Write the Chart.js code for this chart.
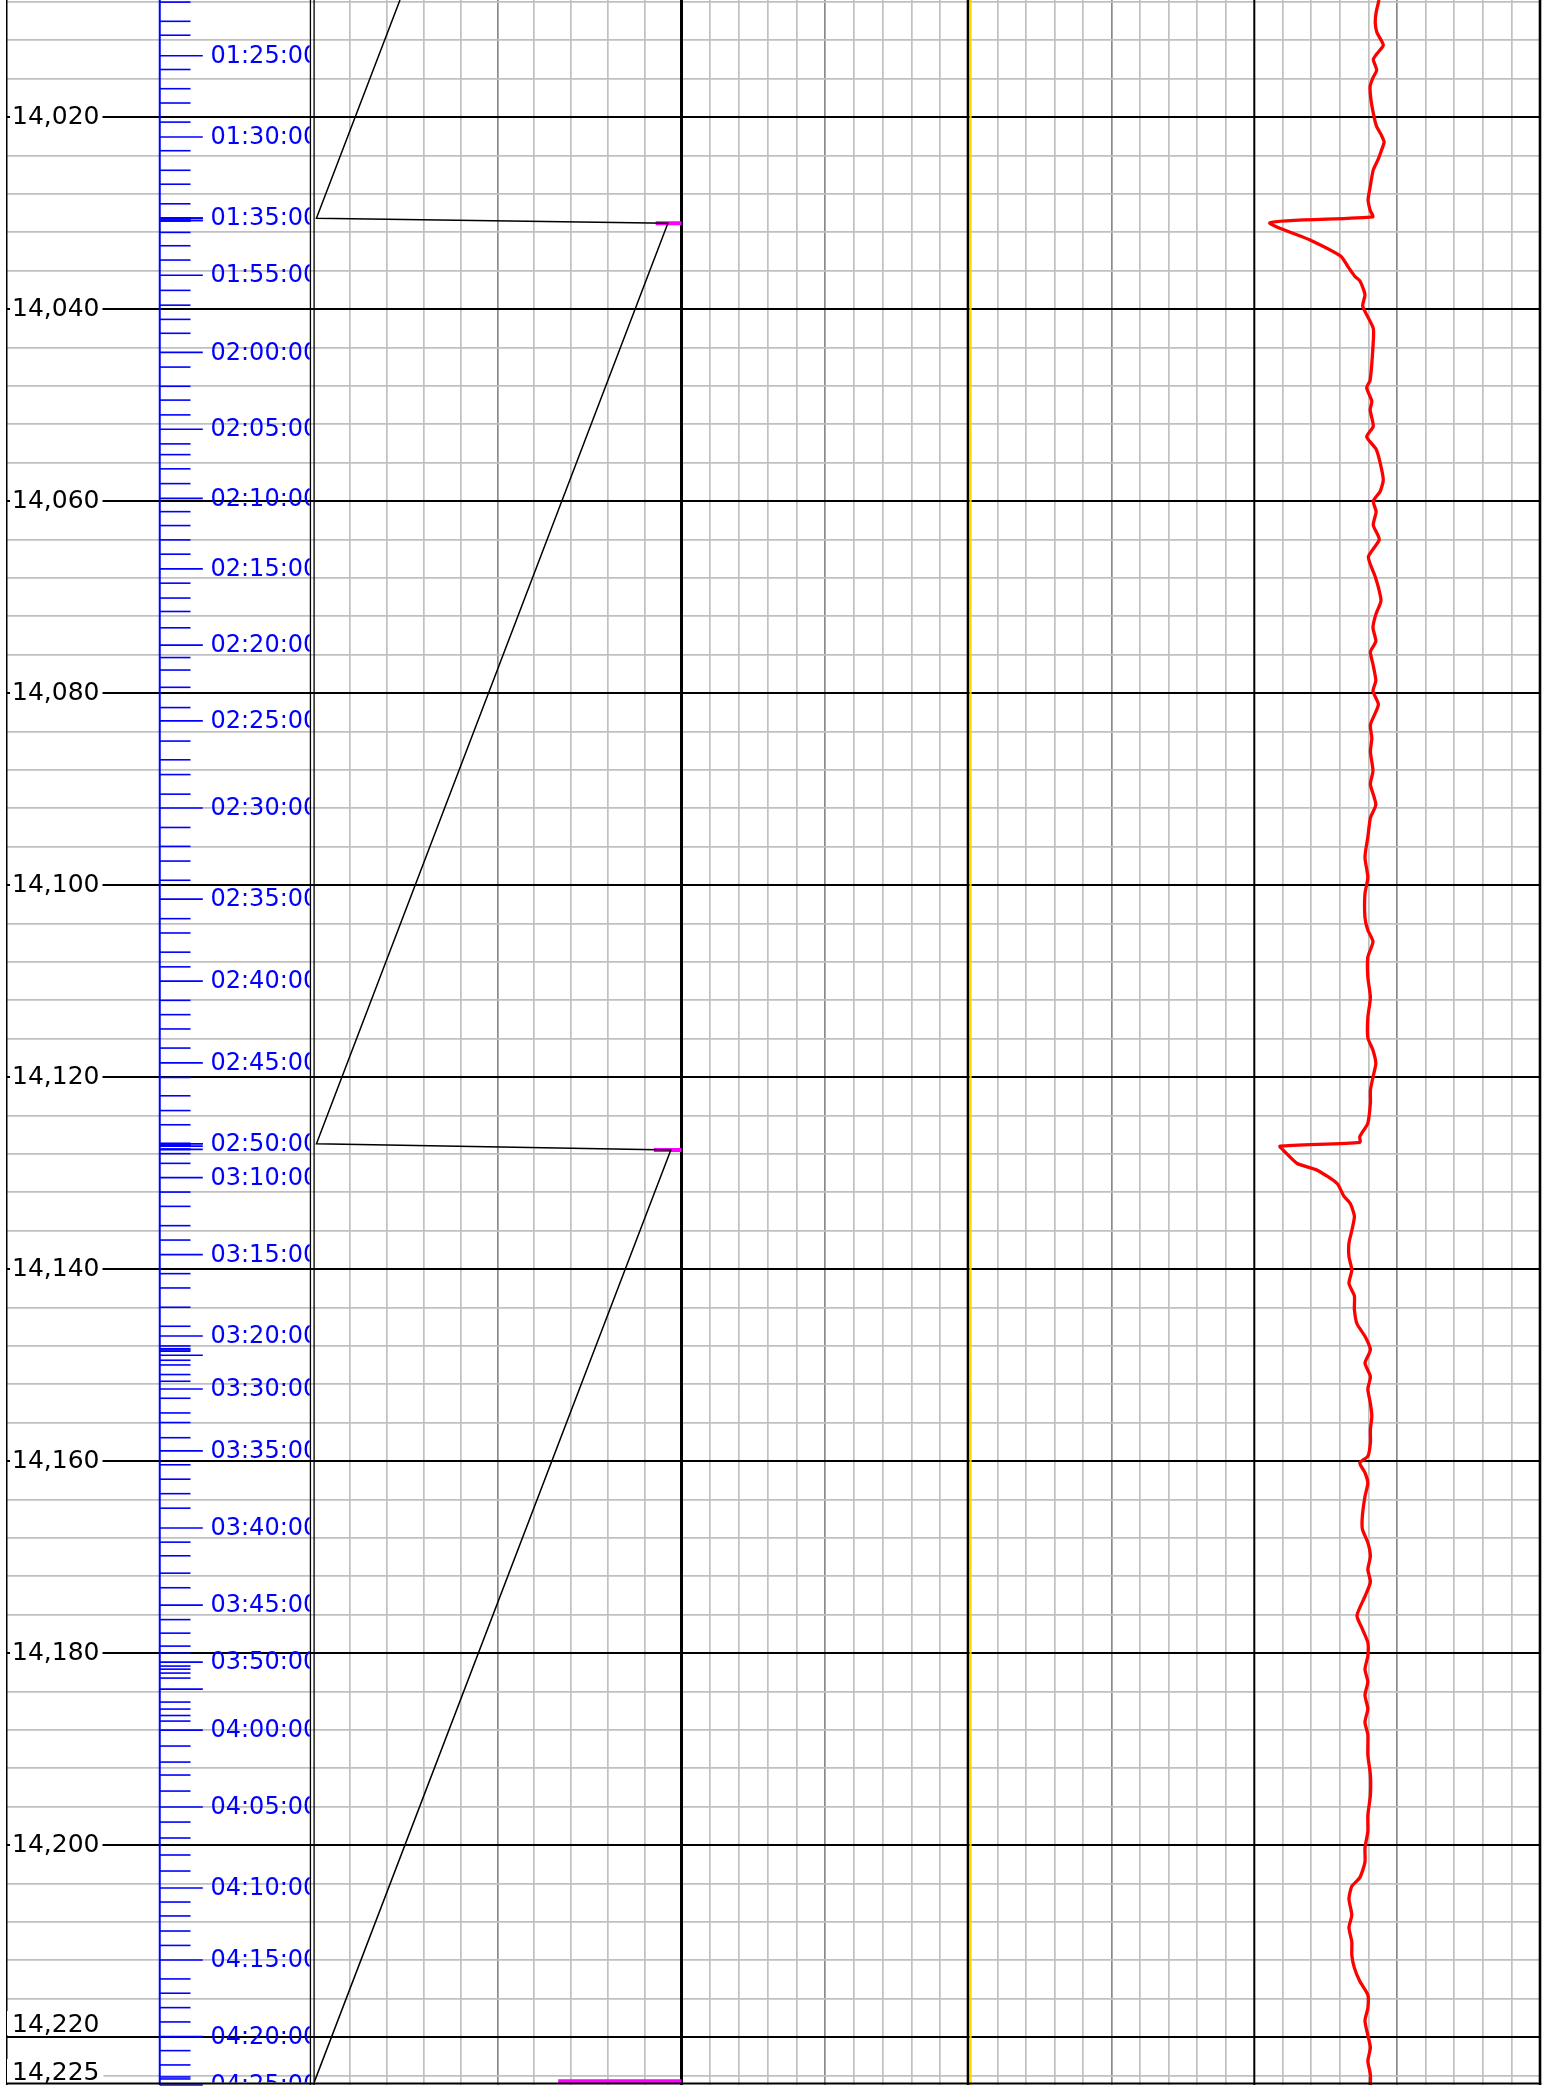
<!DOCTYPE html>
<html>
<head>
<meta charset="utf-8">
<title>Depth log 14,008 – 14,225 ft</title>
<script src="https://cdn.jsdelivr.net/npm/chart.js@4.4.1/dist/chart.umd.min.js"></script>
<style>
  html, body { margin: 0; padding: 0; background: #ffffff; }
  canvas { display: block; }
</style>
</head>
<body>
<canvas id="log" width="1554" height="2086"></canvas>
<script>
// ---- depth window (ft) ----
const DEPTH_TOP = 14007.8;
const DEPTH_BOTTOM = 14225;
const bottomDepthLabels = [14220, 14225];

// ---- block position within the stand (track 2, ft) ----
const blockDepth = [14007.8, 14030.53, 14031.05, 14126.95, 14127.6, 14224.7];
const blockPos   = [23.5,    0.8,      96.3,     0.8,      97.1,    0.2];

// ---- in-slips flag (track 2), null breaks the trace ----
const slipsDepth = [14031.05, 14031.05, null, 14127.6, 14127.6, null, 14224.6, 14224.6];
const slipsValue = [93.0,     100.5,    null, 92.5,    100.5,   null, 66.5,    100.5];

// ---- track 4 curve ----
const gasDepth = [14007.8, 14225];
const gasValue = [0.55, 0.55];

// ---- track 5 curve ----
const curveDepth = [14007.8, 14009.1, 14010.2, 14011.2, 14012.5, 14013.5, 14014.0, 14015.1, 14015.9, 14016.8,
  14018.2, 14020.0, 14021.0, 14021.8, 14022.6, 14023.6, 14024.4, 14025.5, 14027.3, 14028.6,
  14029.7, 14030.4, 14031.0, 14032.8, 14034.5, 14035.6, 14036.6, 14037.1, 14038.5, 14039.7,
  14042.0, 14043.9, 14047.4, 14048.2, 14049.6, 14050.5, 14052.2, 14053.3, 14054.6, 14056.0,
  14057.8, 14059.0, 14060.0, 14061.1, 14062.5, 14064.0, 14065.8, 14067.8, 14069.0, 14070.4,
  14071.8, 14073.2, 14074.6, 14075.7, 14077.0, 14078.7, 14079.8, 14081.2, 14083.3, 14084.7,
  14086.1, 14088.1, 14089.5, 14091.6, 14093.0, 14095.0, 14097.1, 14099.2, 14100.9, 14103.4,
  14104.7, 14105.9, 14107.5, 14109.6, 14111.7, 14113.8, 14115.9, 14117.2, 14118.6, 14120.0,
  14121.4, 14122.7, 14124.8, 14126.2, 14126.8, 14127.2, 14127.7, 14129.0, 14129.7, 14131.1,
  14132.4, 14133.2, 14134.5, 14136.0, 14137.3, 14138.7, 14140.1, 14141.5, 14142.8, 14144.2,
  14145.7, 14147.0, 14148.4, 14149.8, 14151.2, 14152.5, 14154.0, 14155.3, 14156.7, 14158.1,
  14159.5, 14160.2, 14161.2, 14162.3, 14163.7, 14165.7, 14167.1, 14168.5, 14169.9, 14171.3,
  14172.6, 14174.1, 14176.1, 14177.5, 14178.9, 14180.3, 14181.7, 14183.0, 14184.4, 14185.8,
  14187.2, 14188.5, 14190.6, 14192.7, 14194.8, 14196.9, 14198.6, 14200.3, 14201.8, 14203.4,
  14204.3, 14205.6, 14207.3, 14208.6, 14210.1, 14211.5, 14212.8, 14214.2, 14215.6, 14217.0,
  14218.3, 14219.8, 14221.1, 14222.5, 14223.9, 14225.0];
const curveValue = [43.7, 42.7, 42.4, 43.0, 45.2, 42.7, 41.7, 42.9, 41.6, 40.6,
  40.9, 42.0, 42.9, 44.4, 45.5, 44.4, 43.4, 41.7, 40.6, 39.9,
  40.6, 41.5, 5.6, 19.6, 30.4, 32.9, 35.3, 37.1, 38.8, 38.0,
  41.7, 41.6, 40.6, 39.4, 41.2, 40.6, 41.7, 39.4, 42.7, 44.1,
  45.2, 44.1, 41.7, 42.7, 41.7, 43.8, 40.0, 42.3, 43.5, 44.4,
  42.6, 41.6, 42.6, 40.7, 41.6, 42.6, 41.6, 43.5, 40.7, 41.2,
  40.7, 41.6, 40.7, 42.6, 40.7, 39.8, 38.8, 39.8, 38.8, 38.8,
  39.8, 41.6, 39.8, 39.8, 40.7, 39.8, 39.8, 41.6, 42.6, 41.6,
  40.7, 40.7, 39.8, 37.0, 37.0, 9.1, 10.5, 15.1, 22.1, 29.1,
  31.4, 33.7, 35.1, 34.2, 33.2, 33.2, 34.2, 33.2, 35.1, 35.1,
  36.0, 38.8, 40.7, 38.8, 40.7, 39.8, 40.7, 41.2, 40.7, 40.7,
  39.8, 37.0, 38.8, 39.8, 38.8, 37.9, 37.9, 39.8, 40.7, 39.8,
  40.7, 38.8, 36.0, 37.9, 39.8, 39.8, 38.8, 39.8, 38.8, 39.8,
  38.8, 39.8, 39.8, 40.7, 40.7, 39.8, 39.8, 38.8, 38.8, 37.0,
  34.2, 33.2, 34.2, 33.2, 34.2, 34.2, 35.1, 37.0, 39.8, 39.8,
  38.8, 39.8, 40.7, 39.8, 40.7, 40.7];

// ---- time/depth ticks (one per minute) ----
const timeTickTimes = [
  '01:22','01:23','01:24','01:25','01:26','01:27','01:28','01:29',
  '01:30','01:31','01:32','01:33','01:34','01:35','01:36','01:37','01:38','01:39',
  '01:40','01:41','01:42','01:43','01:44','01:45','01:46','01:47','01:48','01:49',
  '01:50','01:51','01:52','01:53','01:54','01:55','01:56','01:57','01:58','01:59',
  '02:00','02:01','02:02','02:03','02:04','02:05','02:06','02:07','02:08','02:09',
  '02:10','02:11','02:12','02:13','02:14','02:15','02:16','02:17','02:18','02:19',
  '02:20','02:21','02:22','02:23','02:24','02:25','02:26','02:27','02:28','02:29',
  '02:30','02:31','02:32','02:33','02:34','02:35','02:36','02:37','02:38','02:39',
  '02:40','02:41','02:42','02:43','02:44','02:45','02:46','02:47','02:48','02:49',
  '02:50','02:51','02:52','02:53','02:54','02:55','02:56','02:57','02:58','02:59',
  '03:00','03:01','03:02','03:03','03:04','03:05','03:06','03:07','03:08','03:09',
  '03:10','03:11','03:12','03:13','03:14','03:15','03:16','03:17','03:18','03:19',
  '03:20','03:21','03:22','03:23','03:24','03:25','03:26','03:27','03:28','03:29',
  '03:30','03:31','03:32','03:33','03:34','03:35','03:36','03:37','03:38','03:39',
  '03:40','03:41','03:42','03:43','03:44','03:45','03:46','03:47','03:48','03:49',
  '03:50','03:51','03:52','03:53','03:54','03:55','03:56','03:57','03:58','03:59',
  '04:00','04:01','04:02','04:03','04:04','04:05','04:06','04:07','04:08','04:09',
  '04:10','04:11','04:12','04:13','04:14','04:15','04:16','04:17','04:18','04:19',
  '04:20','04:21','04:22','04:23','04:24','04:25'];
const timeTickDepths = [
  14008.02, 14010.02, 14011.47, 14013.60, 14015.04, 14017.04, 14018.53, 14020.52,
  14022.07, 14023.50, 14025.54, 14026.99, 14029.03, 14030.52, 14030.52, 14030.52, 14030.52, 14030.52,
  14030.52, 14030.52, 14030.52, 14030.77, 14030.77, 14030.77, 14030.77, 14030.77, 14030.77, 14030.77,
  14030.77, 14030.77, 14032.01, 14033.40, 14034.89, 14036.47, 14038.05, 14039.59, 14041.07, 14042.52,
  14044.51, 14046.04, 14048.04, 14049.48, 14051.02, 14052.51, 14054.04, 14055.16, 14056.64, 14058.18,
  14059.72, 14061.10, 14062.55, 14064.04, 14065.53, 14067.06, 14068.55, 14070.10, 14071.50, 14073.20,
  14075.00, 14076.30, 14077.60, 14079.40, 14081.51, 14082.90, 14085.00, 14086.95, 14088.49, 14090.53,
  14091.97, 14094.00, 14095.97, 14097.50, 14099.50, 14101.46, 14103.50, 14104.99, 14106.99, 14108.52,
  14110.01, 14112.01, 14113.50, 14114.99, 14116.98, 14118.52, 14120.04, 14121.95, 14123.49, 14124.97,
  14126.94, 14126.94, 14126.94, 14126.94, 14126.94, 14126.94, 14126.94, 14126.94, 14127.19, 14127.19,
  14127.19, 14127.19, 14127.19, 14127.19, 14127.53, 14127.53, 14127.53, 14127.53, 14127.98, 14128.99,
  14130.48, 14131.98, 14133.47, 14135.48, 14136.98, 14138.50, 14140.48, 14141.97, 14143.98, 14145.96,
  14146.97, 14148.01, 14148.30, 14148.43, 14148.56, 14148.98, 14149.50, 14149.99, 14150.99, 14151.69,
  14152.49, 14153.46, 14154.99, 14155.99, 14157.57, 14158.94, 14160.39, 14161.89, 14163.40, 14164.91,
  14166.97, 14168.45, 14169.87, 14171.68, 14173.20, 14175.01, 14176.52, 14177.93, 14179.28, 14180.01,
  14180.95, 14181.36, 14181.68, 14182.09, 14182.61, 14183.76, 14185.11, 14185.84, 14186.51, 14187.09,
  14188.03, 14189.69, 14191.36, 14192.71, 14194.38, 14196.04, 14197.61, 14199.27, 14201.04, 14202.71,
  14204.48, 14205.94, 14207.39, 14208.96, 14210.46, 14211.98, 14213.95, 14215.44, 14216.94, 14218.43,
  14219.96, 14221.42, 14222.91, 14224.16, 14224.37, 14225.00];

// ---- helpers ----
const FONT_FAMILY = '"DejaVu Sans", "Liberation Sans", sans-serif';
const DEPTH_LABEL_SIZE = 25;
const TIME_LABEL_SIZE = 24;
const toPoints = (depths, values) => depths.map((d, i) => ({ x: values[i] === null ? NaN : values[i], y: d === null ? NaN : d }));
const isMajorDepth = v => Math.round(v) % 20 === 0;

const trackGrid = {
  color: c => {
    const v = c.tick.value;
    if (v === 0 || v === 100) return 'rgba(0,0,0,0)';
    return v === 50 ? '#8a8a8a' : '#c0c0c0';
  },
  lineWidth: 1.7,
  drawTicks: false
};

function trackScale(weight, withGrid) {
  return {
    type: 'linear',
    position: 'bottom',
    stack: 'tracks',
    stackWeight: weight,
    min: 0,
    max: 100,
    ticks: { display: false, stepSize: 10 },
    grid: withGrid ? trackGrid : { display: false },
    border: { display: false },
    afterFit: s => { s.height = 0; }
  };
}

// Track frames, the time/depth ladder and the interval labels
const logDecor = {
  id: 'logDecor',
  beforeDatasetsDraw(chart) {
    const { ctx, chartArea: a, scales } = chart;
    const yS = scales.depth;
    const tx = scales.xDepth;
    ctx.save();

    // vertical track frames
    const frames = [
      [a.left + 0.75, 1.5],
      [tx.getPixelForValue(99), 1.3],
      [scales.xBlock.left + 0.6, 1.3],
      [scales.xBlock.right, 3],
      [scales.xTrack3.right - 1, 2.6],
      [scales.xGas.right + 0.3, 2],
      [scales.xCurve.right, 2.6]
    ];
    ctx.strokeStyle = '#000000';
    frames.forEach(([x, w]) => {
      ctx.lineWidth = w;
      ctx.beginPath();
      ctx.moveTo(x, a.top);
      ctx.lineTo(x, a.bottom);
      ctx.stroke();
    });

    // time ladder
    const axisX = tx.getPixelForValue(50);
    const shortX = tx.getPixelForValue(60);
    const longX = tx.getPixelForValue(64);
    const labelX = tx.getPixelForValue(66.5);
    ctx.strokeStyle = '#0000ff';
    ctx.lineWidth = 2;
    ctx.beginPath();
    ctx.moveTo(axisX, a.top);
    ctx.lineTo(axisX, a.bottom);
    ctx.stroke();

    ctx.lineWidth = 1.6;
    timeTickTimes.forEach((t, i) => {
      const y = yS.getPixelForValue(timeTickDepths[i]);
      const isLong = parseInt(t.slice(3), 10) % 5 === 0;
      ctx.beginPath();
      ctx.moveTo(axisX, y);
      ctx.lineTo(isLong ? longX : shortX, y);
      ctx.stroke();
    });

    ctx.save();
    ctx.beginPath();
    ctx.rect(a.left, a.top, tx.getPixelForValue(99) - 0.7 - a.left, a.bottom - 2.5 - a.top);
    ctx.clip();
    ctx.fillStyle = '#0000ff';
    ctx.font = TIME_LABEL_SIZE + 'px ' + FONT_FAMILY;
    ctx.textAlign = 'left';
    ctx.textBaseline = 'middle';
    let lastY = -Infinity;
    timeTickTimes.forEach((t, i) => {
      if (parseInt(t.slice(3), 10) % 5 !== 0) return;
      const y = yS.getPixelForValue(timeTickDepths[i]);
      if (y - lastY < 30) return;
      ctx.fillText(t + ':00', labelX, y + 1);
      lastY = y;
    });
    ctx.restore();

    // interval depth labels at the bottom of the window
    ctx.font = DEPTH_LABEL_SIZE + 'px ' + FONT_FAMILY;
    ctx.textAlign = 'left';
    ctx.textBaseline = 'alphabetic';
    bottomDepthLabels.forEach(d => {
      const y = yS.getPixelForValue(d) - 5;
      const text = d.toLocaleString('en-US');
      const w = ctx.measureText(text).width;
      ctx.fillStyle = '#ffffff';
      ctx.fillRect(a.left + 1, y - 21, 6 + w + 3, 24);
      ctx.fillStyle = '#000000';
      ctx.fillText(text, a.left + 6, y);
    });

    ctx.restore();
  },
  afterDatasetsDraw(chart) {
    const { ctx, chartArea: a } = chart;
    ctx.save();
    ctx.strokeStyle = '#000000';
    ctx.lineWidth = 2;
    ctx.beginPath();
    ctx.moveTo(a.left, a.bottom - 1.5);
    ctx.lineTo(a.right + 1.3, a.bottom - 1.5);
    ctx.stroke();
    ctx.restore();
  }
};

new Chart(document.getElementById('log'), {
  type: 'scatter',
  data: {
    datasets: [
      {
        label: 'Track 5 curve',
        data: toPoints(curveDepth, curveValue),
        xAxisID: 'xCurve', yAxisID: 'depth',
        showLine: true, borderColor: '#ff0000', borderWidth: 3.3,
        pointRadius: 0, tension: 0.2, spanGaps: false
      },
      {
        label: 'Block position',
        data: toPoints(blockDepth, blockPos),
        xAxisID: 'xBlock', yAxisID: 'depth',
        showLine: true, borderColor: '#000000', borderWidth: 1.5,
        pointRadius: 0, tension: 0
      },
      {
        label: 'In slips',
        data: toPoints(slipsDepth, slipsValue),
        xAxisID: 'xBlock', yAxisID: 'depth',
        showLine: true, borderColor: '#ff00ff', borderWidth: 4,
        pointRadius: 0, tension: 0, spanGaps: false
      },
      {
        label: 'Track 4 curve',
        data: toPoints(gasDepth, gasValue),
        xAxisID: 'xGas', yAxisID: 'depth',
        showLine: true, borderColor: '#ffd400', borderWidth: 2,
        pointRadius: 0, tension: 0
      }
    ]
  },
  options: {
    responsive: false,
    devicePixelRatio: 1,
    animation: false,
    events: [],
    layout: { padding: { left: 6, right: 14, top: 0, bottom: 1 } },
    plugins: { legend: { display: false }, tooltip: { enabled: false } },
    scales: {
      xDepth: trackScale(307.5, false),
      xBlock: trackScale(368, true),
      xTrack3: trackScale(287.5, true),
      xGas: trackScale(285, true),
      xCurve: trackScale(286, true),
      depth: {
        type: 'linear',
        position: 'left',
        reverse: true,
        min: DEPTH_TOP,
        max: DEPTH_BOTTOM,
        afterFit: s => { s.width = 0; s.paddingTop = 0; s.paddingBottom = 0; },
        ticks: {
          stepSize: 4,
          includeBounds: false,
          autoSkip: false,
          mirror: true,
          crossAlign: 'near',
          padding: 6,
          color: '#000000',
          font: { family: FONT_FAMILY, size: DEPTH_LABEL_SIZE },
          callback: v => (isMajorDepth(v) && !bottomDepthLabels.includes(Math.round(v))) ? Math.round(v).toLocaleString('en-US') : '',
          showLabelBackdrop: c => !!(c.tick && c.tick.label),
          backdropColor: '#ffffff',
          backdropPadding: { left: 2, right: 3, top: 0, bottom: 0 }
        },
        grid: {
          color: c => isMajorDepth(c.tick.value) ? '#000000' : '#c0c0c0',
          lineWidth: c => isMajorDepth(c.tick.value) ? 2 : 1.7,
          drawTicks: false
        },
        border: { display: false }
      }
    }
  },
  plugins: [logDecor]
});
</script>
</body>
</html>
